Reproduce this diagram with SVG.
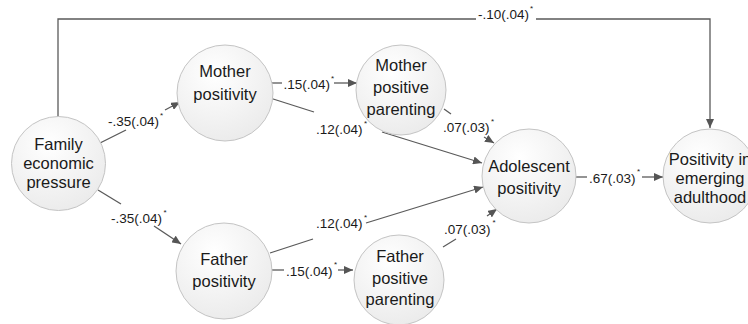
<svg xmlns="http://www.w3.org/2000/svg" width="748" height="324" viewBox="0 0 748 324">
<defs>
<radialGradient id="g" cx="0.4" cy="0.3" r="0.8">
<stop offset="0" stop-color="#ffffff"/>
<stop offset="1" stop-color="#e9e9e9"/>
</radialGradient>
<marker id="ah" markerUnits="userSpaceOnUse" markerWidth="10" markerHeight="8" refX="9" refY="4" orient="auto">
<path d="M0,0 L9,4 L0,8 Z" fill="#555"/>
</marker>
</defs>
<style>
.n{fill:url(#g);stroke:#c4c4c4;stroke-width:1}
.t{font-family:"Liberation Sans",Arial,sans-serif;font-size:16.5px;fill:#1a1a1a;text-anchor:middle}
.l{font-family:"Liberation Sans",Arial,sans-serif;font-size:13.5px;fill:#1a1a1a}
.s{font-size:8px}
.e{fill:none;stroke:#5a5a5a;stroke-width:1.3}
.a{marker-end:url(#ah)}
</style>
<rect width="748" height="324" fill="#ffffff"/>
<g id="connectors">
<polyline class="e" points="58,117 58,19 476,19"/>
<polyline class="e a" points="536,19 710,19 710,128"/>
<text class="l" x="478" y="19">-.10(.04)<tspan class="s" dx="1" dy="-8">*</tspan></text>

<line class="e" x1="100" y1="143" x2="126" y2="130"/>
<line class="e a" x1="165" y1="110" x2="180" y2="102"/>
<text class="l" x="108" y="126">-.35(.04)<tspan class="s" dx="1" dy="-8">*</tspan></text>

<line class="e" x1="98" y1="190" x2="121" y2="204"/>
<line class="e a" x1="154" y1="226" x2="181" y2="244"/>
<text class="l" x="111" y="223">-.35(.04)<tspan class="s" dx="1.5" dy="-8">*</tspan></text>

<line class="e" x1="271" y1="83" x2="282" y2="83"/>
<line class="e a" x1="334" y1="83" x2="357" y2="83"/>
<text class="l" x="283.5" y="89">.15(.04)<tspan class="s" dx="1" dy="-8">*</tspan></text>

<line class="e" x1="270" y1="98" x2="314" y2="112"/>
<line class="e a" x1="382" y1="132" x2="482" y2="163"/>
<text class="l" x="316" y="134">.12(.04)<tspan class="s" dx="1.5" dy="-8">*</tspan></text>

<line class="e" x1="444" y1="109" x2="451" y2="114"/>
<line class="e a" x1="484" y1="137" x2="494" y2="143"/>
<text class="l" x="443" y="132">.07(.03)<tspan class="s" dx="1.5" dy="-8">*</tspan></text>

<line class="e" x1="270" y1="253" x2="313" y2="239"/>
<line class="e a" x1="366" y1="223" x2="483" y2="187"/>
<text class="l" x="316" y="228">.12(.04)<tspan class="s" dx="1.5" dy="-8">*</tspan></text>

<line class="e" x1="443" y1="247" x2="456" y2="239"/>
<line class="e a" x1="487" y1="216" x2="497" y2="209"/>
<text class="l" x="444" y="234">.07(.03)<tspan class="s" dx="2" dy="-9">*</tspan></text>

<line class="e" x1="272" y1="270" x2="284" y2="270"/>
<line class="e a" x1="338" y1="270" x2="353" y2="270"/>
<text class="l" x="286" y="276">.15(.04)<tspan class="s" dx="1.5" dy="-9">*</tspan></text>

<line class="e" x1="576" y1="177" x2="587" y2="177"/>
<line class="e a" x1="642" y1="177" x2="663" y2="177"/>
<text class="l" x="589" y="183">.67(.03)<tspan class="s" dx="1.5" dy="-9">*</tspan></text>
</g>
<g id="family">
<circle class="n" cx="58.5" cy="163.5" r="47"/>
<text class="t" x="58.5" y="150">Family</text>
<text class="t" x="58.5" y="169">economic</text>
<text class="t" x="58.5" y="188">pressure</text>
</g>
<g id="mother-positivity">
<circle class="n" cx="225" cy="93" r="48"/>
<text class="t" x="225" y="77">Mother</text>
<text class="t" x="225" y="100">positivity</text>
</g>
<g id="mother-parenting">
<circle class="n" cx="401" cy="90" r="45"/>
<text class="t" x="401" y="71">Mother</text>
<text class="t" x="401" y="93">positive</text>
<text class="t" x="401" y="115">parenting</text>
</g>
<g id="father-positivity">
<circle class="n" cx="224" cy="271" r="48"/>
<text class="t" x="224" y="265">Father</text>
<text class="t" x="224" y="287">positivity</text>
</g>
<g id="father-parenting">
<circle class="n" cx="399" cy="280" r="45"/>
<text class="t" x="400" y="262">Father</text>
<text class="t" x="400" y="284">positive</text>
<text class="t" x="400" y="305">parenting</text>
</g>
<g id="adolescent">
<circle class="n" cx="529" cy="176" r="47"/>
<text class="t" x="529" y="172">Adolescent</text>
<text class="t" x="529" y="194">positivity</text>
</g>
<g id="emerging-adulthood">
<circle class="n" cx="710" cy="176" r="47"/>
<text class="t" x="710" y="165">Positivity in</text>
<text class="t" x="710" y="184">emerging</text>
<text class="t" x="710" y="203">adulthood</text>
</g>
</svg>
